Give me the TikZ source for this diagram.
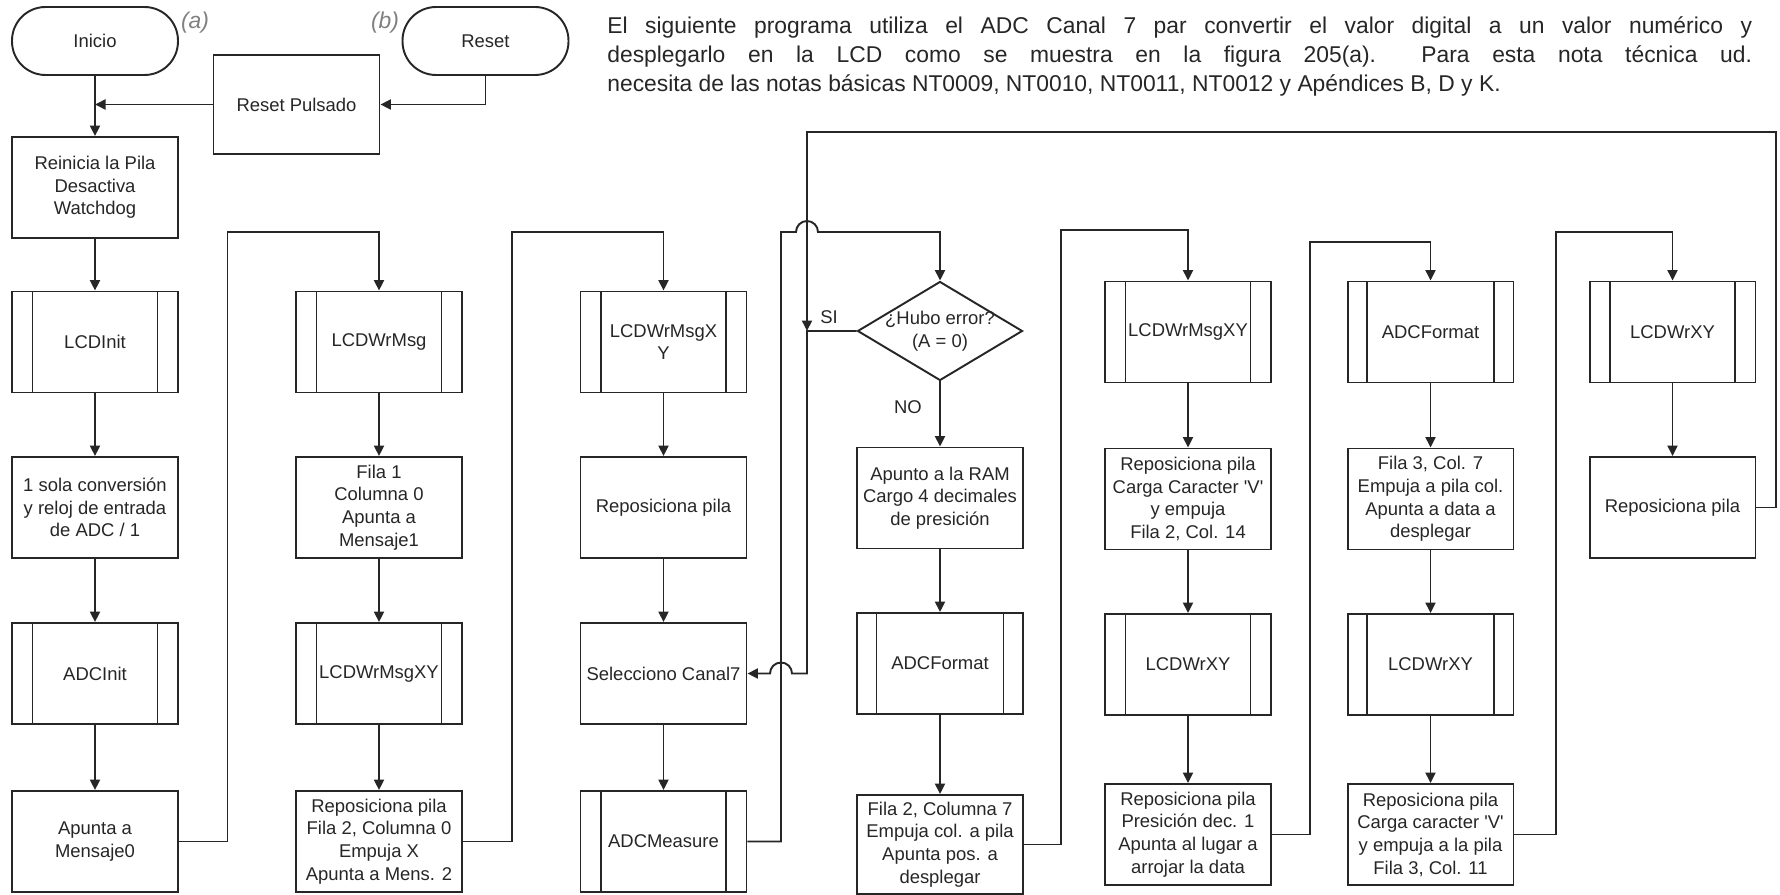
\documentclass[tikz,border=0pt]{standalone}
\usepackage{fontspec}
\setmainfont{Liberation Sans}
\usetikzlibrary{arrows.meta,shapes.geometric}

\newcommand\boxfont{\fontsize{10.5}{12.9}\selectfont}
\newcommand\parafont{\fontsize{13}{16.4}\selectfont}
\newcommand\tagfont{\fontsize{13}{15}\selectfont\itshape}

\begin{document}
\begin{tikzpicture}[x=0.02cm,y=-0.02cm,
  every node/.style={text=black!85},
  box/.style={draw=black!85, line width=1.1pt, rectangle, minimum width=3.32cm,
    minimum height=2.02cm, inner sep=0pt, align=center, font=\boxfont},
  subr/.style={box, path picture={
    \draw[line width=1.1pt, black!85]
      ([xshift=#1]path picture bounding box.north west) -- ([xshift=#1]path picture bounding box.south west)
      ([xshift=-#1]path picture bounding box.north east) -- ([xshift=-#1]path picture bounding box.south east);}},
  subr/.default=0.41cm,
  term/.style={draw=black!85, line width=1.1pt, rectangle, rounded corners=0.67cm,
    minimum width=3.32cm, minimum height=1.36cm, inner sep=0pt, font=\boxfont},
  decision/.style={draw=black!85, line width=1.1pt, diamond, minimum width=3.3cm,
    minimum height=1.98cm, inner sep=0pt},
  line/.style={draw=black!85, line width=1.1pt},
  flow/.style={line, -{Triangle[width=0.2cm,length=0.21cm]}},
  tag/.style={font=\tagfont, text=black!50},
  answer/.style={font=\boxfont},
  introtext/.style={font=\parafont, inner sep=0pt, anchor=base west}
]
\useasboundingbox (0,0) rectangle (1780,895);

% start symbols
\node[term] (inicio) at (95,41) {Inicio};
\node[term] (reset) at (485.5,41) {Reset};
\node[tag] (taga) at (195,23) {(a)};
\node[tag] (tagb) at (385,23) {(b)};
\node[box, minimum height=1.98cm] (pulsado) at (296.5,104.5) {Reset Pulsado};

% column 1
\node[box] (reinicia) at (95,187.5) {Reinicia la Pila\\Desactiva\\Watchdog};
\node[subr] (lcdinit) at (95,342) {LCDInit};
\node[box] (sola) at (95,507.5) {1 sola conversión\\y reloj de entrada\\de ADC / 1};
\node[subr] (adcinit) at (95,673.5) {ADCInit};
\node[box] (msg0) at (95,841.5) {Apunta a\\Mensaje0};

% column 2
\node[subr] (wrmsg) at (379,342) {LCDWrMsg};
\node[box] (fila1) at (379,507.5) {Fila 1\\Columna 0\\Apunta a\\Mensaje1};
\node[subr] (wrxy2) at (379,673.5) {LCDWrMsgXY};
\node[box] (rep2) at (379,841.5) {Reposiciona pila\\Fila 2, Columna 0\\Empuja X\\Apunta a Mens. 2};

% column 3
\node[subr] (wrxy3) at (663.5,342) {LCDWrMsgX\\Y};
\node[box] (rep3) at (663.5,507.5) {Reposiciona pila};
\node[box] (canal) at (663.5,673.5) {Selecciono Canal7};
\node[subr] (measure) at (663.5,841.5) {ADCMeasure};

% column 4
\node[decision] (error) at (940,331) {};
\node[answer, align=center] (errortxt) at (940,331) {¿Hubo error?\\(A = 0)};
\node[box] (ram) at (940,498) {Apunto a la RAM\\Cargo 4 decimales\\de presición};
\node[subr=0.39cm] (fmt4) at (940,663.5) {ADCFormat};
\node[box, minimum height=1.98cm] (fila2) at (940,844.5) {Fila 2, Columna 7\\Empuja col. a pila\\Apunta pos. a\\desplegar};

% column 5
\node[subr] (wrxy5) at (1188,332) {LCDWrMsgXY};
\node[box] (carga5) at (1188,499) {Reposiciona pila\\Carga Caracter \textquotesingle V\textquotesingle\\y empuja\\Fila 2, Col. 14};
\node[subr] (lcdxy5) at (1188,664.5) {LCDWrXY};
\node[box] (pres5) at (1188,834.5) {Reposiciona pila\\Presición dec. 1\\Apunta al lugar a\\arrojar la data};

% column 6
\node[subr=0.39cm] (fmt6) at (1430.5,332) {ADCFormat};
\node[box] (fila3) at (1430.5,499) {Fila 3, Col. 7\\Empuja a pila col.\\Apunta a data a\\desplegar};
\node[subr=0.39cm] (lcdxy6) at (1430.5,664.5) {LCDWrXY};
\node[box] (carga6) at (1430.5,834.5) {Reposiciona pila\\Carga caracter \textquotesingle V\textquotesingle\\y empuja a la pila\\Fila 3, Col. 11};

% column 7
\node[subr] (lcdxy7) at (1672.5,332) {LCDWrXY};
\node[box] (rep7) at (1672.5,507.5) {Reposiciona pila};

% explanatory paragraph, first two lines justified
\node[introtext] (intro1) at (607,33.3)
  {\makebox[22.9cm][s]{El siguiente programa utiliza el ADC Canal 7 par convertir el valor digital a un valor numérico y}};
\node[introtext] (intro2) at (607,62.5)
  {\makebox[22.9cm][s]{desplegarlo en la LCD como se muestra en la figura 205(a).\ \ Para esta nota técnica ud.}};
\node[introtext] (intro3) at (607,91.5)
  {necesita de las notas básicas NT0009, NT0010, NT0011, NT0012 y Apéndices B, D y K.};

% decision labels
\node[answer] (si) at (829,317) {SI};
\node[answer] (no) at (908,407) {NO};

% start and reset
\draw[flow] (inicio) -- (reinicia);
\draw[flow] (reset.south) |- (pulsado.east);
\draw[flow] (pulsado.west) -- (inicio.south |- pulsado.west);

% column 1
\draw[flow] (reinicia) -- (lcdinit);
\draw[flow] (lcdinit) -- (sola);
\draw[flow] (sola) -- (adcinit);
\draw[flow] (adcinit) -- (msg0);
\draw[flow] (msg0.east) -| (227.5,232) -| (wrmsg.north);

% column 2
\draw[flow] (wrmsg) -- (fila1);
\draw[flow] (fila1) -- (wrxy2);
\draw[flow] (wrxy2) -- (rep2);
\draw[flow] (rep2.east) -| (512,232) -| (wrxy3.north);

% column 3
\draw[flow] (wrxy3) -- (rep3);
\draw[flow] (rep3) -- (canal);
\draw[flow] (canal) -- (measure);
\draw[flow] (measure.east) -| (781,232) -- (796,232)
  arc[start angle=180, end angle=0, radius=0.22cm] -| (error.north);

% decision
\coordinate (join) at (807,331);
\draw[flow] (error.west) -- (join) -- (807,673.5) -- (792,673.5)
  arc[start angle=0, end angle=180, radius=0.22cm] -- (canal.east);
\draw[flow] (rep7.east) -- (1776,507.5) |- (807,132) -- (join);
\draw[flow] (error.south) -- (ram.north);

% column 4
\draw[flow] (ram) -- (fmt4);
\draw[flow] (fmt4) -- (fila2);
\draw[flow] (fila2.east) -| (1061,230) -| (wrxy5.north);

% column 5
\draw[flow] (wrxy5) -- (carga5);
\draw[flow] (carga5) -- (lcdxy5);
\draw[flow] (lcdxy5) -- (pres5);
\draw[flow] (pres5.east) -| (1310,242) -| (fmt6.north);

% column 6
\draw[flow] (fmt6) -- (fila3);
\draw[flow] (fila3) -- (lcdxy6);
\draw[flow] (lcdxy6) -- (carga6);
\draw[flow] (carga6.east) -| (1556,232) -| (lcdxy7.north);

% column 7
\draw[flow] (lcdxy7) -- (rep7);
\end{tikzpicture}
\end{document}
